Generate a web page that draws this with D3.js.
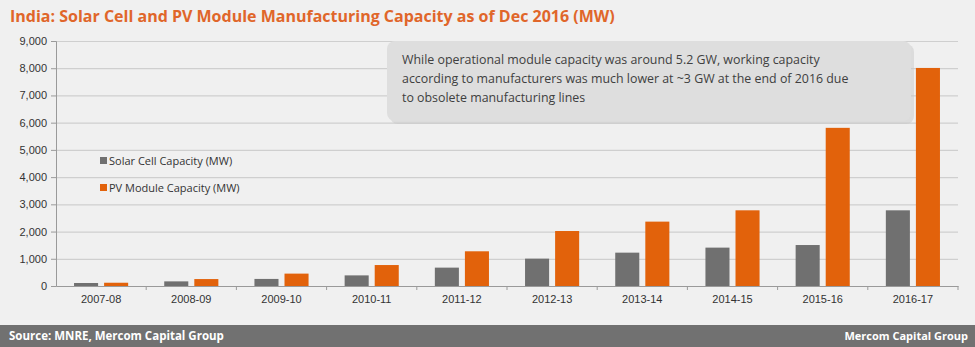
<!DOCTYPE html>
<html>
<head>
<meta charset="utf-8">
<script src="https://cdn.jsdelivr.net/npm/d3@7"></script>
<style>
  body { margin: 0; background: #f0f0f0; }
  svg { display: block; font-family: "Open Sans", "Noto Sans", sans-serif; }
</style>
</head>
<body>
<div id="chart"></div>
<script>
// data
var years = ["2007-08", "2008-09", "2009-10", "2010-11", "2011-12", "2012-13", "2013-14", "2014-15", "2015-16", "2016-17"];
var cellCapacity = [110, 170, 260, 390, 675, 1005, 1225, 1410, 1505, 2780];
var moduleCapacity = [120, 255, 455, 770, 1275, 2020, 2365, 2780, 5810, 8010];
var seriesNames = ["Solar Cell Capacity (MW)", "PV Module Capacity (MW)"];
var yTicks = [0, 1000, 2000, 3000, 4000, 5000, 6000, 7000, 8000, 9000];
var noteLines = [
    "While operational module capacity was around 5.2 GW, working capacity",
    "according to manufacturers was much lower at ~3 GW at the end of 2016 due",
    "to obsolete manufacturing lines"
];

var W = 975, H = 347;
var margin = { top: 41, right: 17, bottom: 61, left: 56 },
    width = W - margin.left - margin.right,
    height = H - margin.top - margin.bottom;

var colors = ["#707070", "#e2620b"];

var svg = d3.select("#chart")
    .append("svg")
    .attr("width", W)
    .attr("height", H);

svg.append("rect").attr("width", W).attr("height", H).attr("fill", "#f0f0f0");

// title
svg.append("text")
    .attr("x", 10)
    .attr("y", 22)
    .attr("fill", "#e0662a")
    .style("font-size", "16px")
    .style("font-weight", "bold")
    .text("India: Solar Cell and PV Module Manufacturing Capacity as of Dec 2016 (MW)");

var g = svg.append("g")
    .attr("transform", "translate(" + margin.left + "," + margin.top + ")");

var x = d3.scaleBand()
    .domain(years)
    .range([0, width]);

var x1 = d3.scaleBand()
    .domain([0, 1])
    .range([0, x.bandwidth()])
    .paddingInner(0.2)
    .paddingOuter(0.6);

var y = d3.scaleLinear()
    .domain([0, 9000])
    .range([height, 0]);

// gridlines
g.append("g")
    .selectAll("line")
    .data(yTicks.slice(1))
    .enter()
    .append("line")
    .attr("x1", 0)
    .attr("x2", width)
    .attr("y1", function (d) { return y(d) + 0.5; })
    .attr("y2", function (d) { return y(d) + 0.5; })
    .attr("stroke", "#cfcfcf")
    .attr("stroke-width", 1.2);

// y axis
var yAxis = g.append("g")
    .call(d3.axisLeft(y).tickValues(yTicks).tickFormat(d3.format(",")).tickSize(5).tickPadding(4));
yAxis.select(".domain").attr("stroke", "#9a9a9a");
yAxis.selectAll(".tick line").attr("stroke", "#9a9a9a");
yAxis.selectAll("text").attr("fill", "#333").style("font-size", "11px");

// bars
var groups = g.selectAll(".year")
    .data(years)
    .enter()
    .append("g")
    .attr("transform", function (d) { return "translate(" + x(d) + ",0)"; });

groups.selectAll("rect")
    .data(function (d, i) { return [cellCapacity[i], moduleCapacity[i]]; })
    .enter()
    .append("rect")
    .attr("x", function (d, j) { return x1(j); })
    .attr("width", x1.bandwidth())
    .attr("y", function (d) { return y(d); })
    .attr("height", function (d) { return height - y(d); })
    .attr("fill", function (d, j) { return colors[j]; });

// x axis
var xAxis = g.append("g")
    .attr("transform", "translate(0," + height + ")")
    .call(d3.axisBottom(x).tickSize(0).tickPadding(9));
xAxis.select(".domain").attr("stroke", "#9a9a9a");
xAxis.selectAll("text").attr("fill", "#333").style("font-size", "11px");
xAxis.selectAll(".sep")
    .data(years.slice(1).concat(["end"]))
    .enter()
    .append("line")
    .attr("x1", function (d, i) { return x.step() * (i + 1); })
    .attr("x2", function (d, i) { return x.step() * (i + 1); })
    .attr("y1", 0)
    .attr("y2", 4)
    .attr("stroke", "#9a9a9a");

// legend
var legend = svg.append("g").attr("transform", "translate(100,161)");
seriesNames.forEach(function (name, i) {
    var row = legend.append("g").attr("transform", "translate(0," + (i * 27) + ")");
    row.append("rect").attr("x", 0).attr("y", -4).attr("width", 7).attr("height", 7).attr("fill", colors[i]);
    row.append("text")
        .attr("x", 9)
        .attr("y", 4)
        .attr("fill", "#333")
        .style("font-size", "11px")
        .text(name);
});

// annotation box
var note = svg.append("g");
note.append("rect")
    .attr("x", 390).attr("y", 44)
    .attr("width", 524).attr("height", 80)
    .attr("rx", 8)
    .attr("fill", "#c8c8c8")
    .attr("opacity", 0.5);
note.append("rect")
    .attr("x", 387).attr("y", 41)
    .attr("width", 524).attr("height", 80)
    .attr("rx", 8)
    .attr("fill", "#dedede");
note.selectAll("text")
    .data(noteLines)
    .enter()
    .append("text")
    .attr("x", 402)
    .attr("y", function (d, i) { return 64 + i * 19; })
    .attr("fill", "#404040")
    .style("font-size", "12.4px")
    .text(function (d) { return d; });

// footer
svg.append("rect")
    .attr("x", 0).attr("y", 325)
    .attr("width", W).attr("height", 22)
    .attr("fill", "#717171");
svg.append("text")
    .attr("x", 9).attr("y", 340)
    .attr("fill", "#fff")
    .style("font-size", "11.5px").style("font-weight", "bold")
    .text("Source: MNRE, Mercom Capital Group");
svg.append("text")
    .attr("x", 968).attr("y", 340)
    .attr("text-anchor", "end")
    .attr("fill", "#fff")
    .style("font-size", "11px").style("font-weight", "bold")
    .text("Mercom Capital Group");
</script>
</body>
</html>
